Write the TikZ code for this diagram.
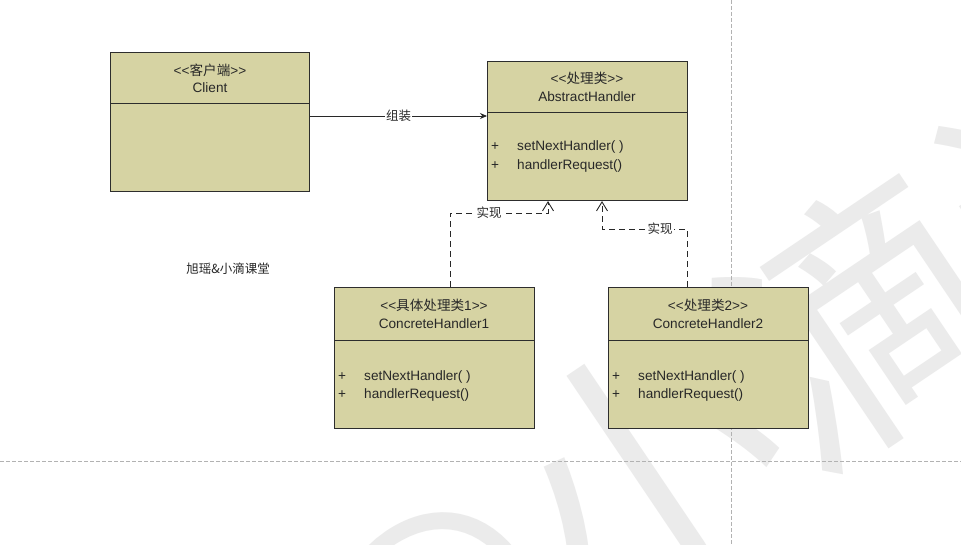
\documentclass[tikz,border=0pt]{standalone}
\usepackage{fontspec}
\newfontfamily\latin{Liberation Sans}
\newfontfamily\cjk{Noto Sans CJK SC}
\usetikzlibrary{arrows.meta}
\definecolor{boxfill}{RGB}{214,211,163}
\definecolor{boxline}{RGB}{45,45,45}
\definecolor{pageline}{RGB}{178,178,178}
\definecolor{wmark}{RGB}{235,235,235}
\definecolor{inkgray}{RGB}{40,40,40}
\begin{document}
\begin{tikzpicture}[x=1pt,y=-1pt,
  umlbox/.style={draw=boxline, fill=boxfill, line width=1.1pt, anchor=north west,
    inner sep=0, minimum width=200, minimum height=140},
  txt/.style={font=\latin\fontsize{13.6}{15}\selectfont, text=inkgray, inner sep=0},
  meth/.style={txt, anchor=west},
  lbl/.style={font=\cjk\fontsize{12.5}{14}\selectfont, text=inkgray, fill=white, inner sep=1pt},
  pagerule/.style={draw=pageline, line width=0.8pt, dash pattern=on 4pt off 2pt},
  assoc/.style={draw=inkgray, line width=0.9pt, -{Stealth[length=7pt,width=6pt]}},
  realize/.style={draw=inkgray, line width=0.9pt, dash pattern=on 6pt off 4pt,
    -{Straight Barb[length=9pt,width=11pt,line width=0.9pt]}},
]
\useasboundingbox (0,0) rectangle (961,545);
\fill[white] (0,0) rectangle (961,545);

% watermark
\begin{scope}
  \clip (0,0) rectangle (961,545);
  \node[rotate=34, text=wmark, inner sep=0, font=\cjk\fontsize{266}{266}\selectfont] (wm) at (874,326) {@小滴课堂};
\end{scope}

% page boundaries
\coordinate (vtop) at (731,0);
\coordinate (vbot) at (731,545);
\coordinate (hl) at (0,461);
\coordinate (hr) at (961,461);
\draw[pagerule] (vtop) -- (vbot);
\draw[pagerule] (hl) -- (hr);

% Client
\node[umlbox, minimum width=199, minimum height=139] (client) at (110,52) {};
\draw[boxline, line width=1pt] (client.west |- 0,104) -- (client.east |- 0,104);
\node[txt] (clientst) at (210,70) {<<{\cjk 客户端}>>};
\node[txt] (clientnm) at (210,88) {Client};

% AbstractHandler
\node[umlbox, minimum width=200, minimum height=139] (abs) at (487,61) {};
\draw[boxline, line width=1pt] (abs.west |- 0,113) -- (abs.east |- 0,113);
\node[txt] (absst) at (587,78) {<<{\cjk 处理类}>>};
\node[txt] (absnm) at (587,97) {AbstractHandler};
\node[meth] (absp1) at (491,147) {+};
\node[meth] (absm1) at (517,147) {setNextHandler( )};
\node[meth] (absp2) at (491,166) {+};
\node[meth] (absm2) at (517,166) {handlerRequest()};

% ConcreteHandler1
\node[umlbox, minimum width=200, minimum height=141] (ch1) at (334,287) {};
\draw[boxline, line width=1pt] (ch1.west |- 0,340) -- (ch1.east |- 0,340);
\node[txt] (ch1st) at (434,305) {<<{\cjk 具体处理类}1>>};
\node[txt] (ch1nm) at (434,324) {ConcreteHandler1};
\node[meth] (ch1p1) at (338,377) {+};
\node[meth] (ch1m1) at (364,377) {setNextHandler( )};
\node[meth] (ch1p2) at (338,395) {+};
\node[meth] (ch1m2) at (364,395) {handlerRequest()};

% ConcreteHandler2
\node[umlbox, minimum width=200, minimum height=141] (ch2) at (608,287) {};
\draw[boxline, line width=1pt] (ch2.west |- 0,340) -- (ch2.east |- 0,340);
\node[txt] (ch2st) at (708,305) {<<{\cjk 处理类}2>>};
\node[txt] (ch2nm) at (708,324) {ConcreteHandler2};
\node[meth] (ch2p1) at (612,377) {+};
\node[meth] (ch2m1) at (638,377) {setNextHandler( )};
\node[meth] (ch2p2) at (612,395) {+};
\node[meth] (ch2m2) at (638,395) {handlerRequest()};

% free text
\node[font=\cjk\fontsize{12.5}{14}\selectfont, text=inkgray] (brand) at (228,269) {旭瑶\&小滴课堂};

% connectors
\draw[assoc] (client.east |- 0,116) -- node[lbl] {组装} (abs.west |- 0,116);
\draw[realize] (ch1.north -| 450,0) |- (489,213) node[lbl] {实现} -| (abs.south -| 548,0);
\draw[realize] (ch2.north -| 687,0) |- (660,229) node[lbl] {实现} -| (abs.south -| 602,0);
\end{tikzpicture}
\end{document}
